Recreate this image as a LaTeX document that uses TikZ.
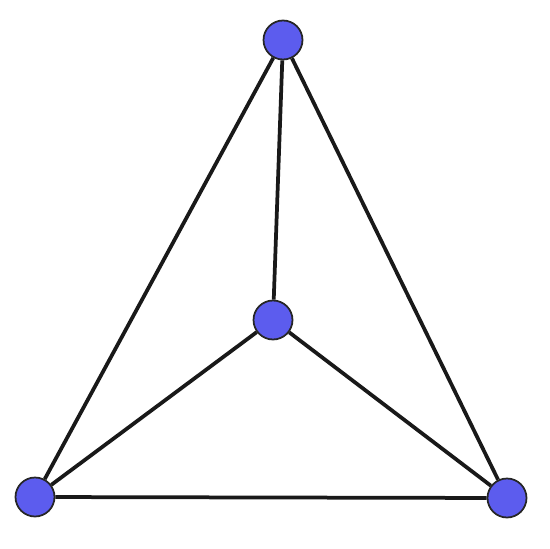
\documentclass[tikz,border=0pt]{standalone}
\usepackage{xcolor}
\usepackage{tikz}
\usetikzlibrary{calc}
\definecolor{vertexblue}{RGB}{92,92,238}

\begin{document}
\begin{tikzpicture}
            \useasboundingbox (0.000000,0.000000) rectangle (11.000000,10.960000);%
            \tikzset{vertex/.style={circle, draw=black!85, line width=0.035cm, fill=vertexblue, minimum size=0.78cm, inner sep=0pt},
                     edge/.style={line width=0.075cm, black!90}}
            
            % Marking vertices
            \node [vertex] (top) at (5.660000,10.160000) {};%
            \node [vertex] (mid) at (5.460000,4.560000) {};%
            \node [vertex] (left) at (0.700000,1.020000) {};%
            \node [vertex] (right) at (10.140000,1.000000) {};%
            
            % Drawing edges
            \draw [edge] (top) -- (mid);%
            \draw [edge] (top) -- (left);%
            \draw [edge] (top) -- (right);%
            \draw [edge] (mid) -- (left);%
            \draw [edge] (mid) -- (right);%
            \draw [edge] (left) -- (right);%
        \end{tikzpicture}
\end{document}
